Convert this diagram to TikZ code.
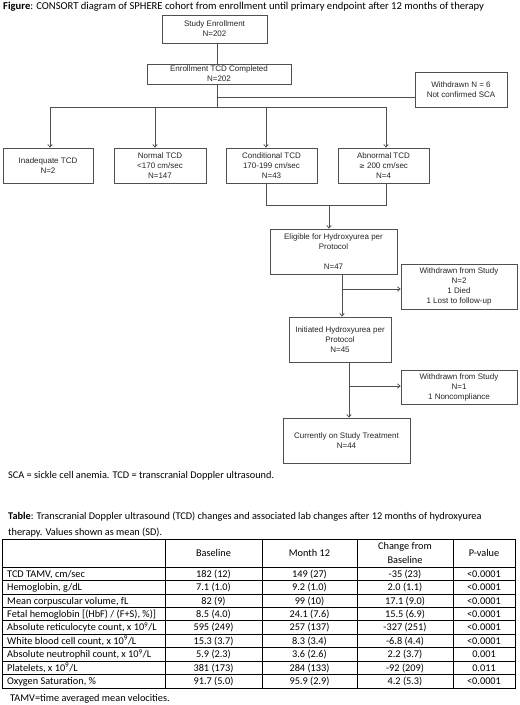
\documentclass[tikz,border=0pt]{standalone}
\usepackage{fontspec}
\setmainfont{Carlito}
\newfontfamily\arialf{Liberation Sans}
\usetikzlibrary{arrows.meta}
\definecolor{linec}{HTML}{505050}
\newcommand\trow[6]{%
  \node[tcell, anchor=base west] (r#1a) at (7,{567+(#1-0.5)*13.45+3.4}) {#2};
  \node[tcell, anchor=base] (r#1b) at (213.5,{567+(#1-0.5)*13.45+3.4}) {#3};
  \node[tcell, anchor=base] (r#1c) at (309.5,{567+(#1-0.5)*13.45+3.4}) {#4};
  \node[tcell, anchor=base] (r#1d) at (405,{567+(#1-0.5)*13.45+3.4}) {#5};
  \node[tcell, anchor=base] (r#1e) at (484,{567+(#1-0.5)*13.45+3.4}) {#6};
}
\begin{document}
\begin{tikzpicture}[x=1pt,y=-1pt,
  box/.style={draw=linec, line width=0.8pt, fill=white, align=center, inner sep=0pt,
    font=\arialf\fontsize{8}{10}\selectfont, text=black!85},
  conn/.style={draw=linec, line width=0.8pt},
  arr/.style={conn, -{Straight Barb[length=2.5pt,width=4.5pt]}},
  captext/.style={inner sep=0pt, anchor=base west, font=\fontsize{10.3}{12.4}\selectfont},
  tcell/.style={inner sep=0pt, font=\fontsize{10.3}{13.5}\selectfont, align=center},
  tgrid/.style={draw=black, line width=0.8pt}
]
\useasboundingbox[fill=white] (0,0) rectangle (520,705);

% captions
\node[captext, font=\fontsize{10.6}{12.4}\selectfont] (figcap) at (3,9) {\textbf{Figure}: CONSORT diagram of SPHERE cohort from enrollment until primary endpoint after 12 months of therapy};
\node[captext] (abbr) at (8,478) {SCA = sickle cell anemia. TCD = transcranial Doppler ultrasound.};
\node[captext] (tcap1) at (8,519) {\textbf{Table}: Transcranial Doppler ultrasound (TCD) changes and associated lab changes after 12 months of hydroxyurea};
\node[captext] (tcap2) at (8,535) {therapy. Values shown as mean (SD).};
\node[captext] (tamv) at (10,701.5) {TAMV=time averaged mean velocities.};

% boxes
\node[box, minimum width=105pt, minimum height=28pt] (study) at (214.5,29) {Study Enrollment\\N=202};
\node[box, minimum width=144pt, minimum height=20pt] (enroll) at (219,74) {Enrollment TCD Completed\\N=202};
\node[box, minimum width=92pt, minimum height=35pt] (wd6) at (461,89.5) {Withdrawn N = 6\\Not confirmed SCA};
\node[box, minimum width=90pt, minimum height=35pt] (inad) at (48,165.5) {Inadequate TCD\\N=2};
\node[box, minimum width=92pt, minimum height=35pt] (normal) at (160,165.5) {Normal TCD\\<170 cm/sec\\N=147};
\node[box, minimum width=91pt, minimum height=35pt] (cond) at (271.5,165.5) {Conditional TCD\\170-199 cm/sec\\N=43};
\node[box, minimum width=91pt, minimum height=35pt] (abn) at (383.5,165.5) {Abnormal TCD\\{\fontspec{DejaVu Sans}\fontsize{7}{10}\selectfont ≥} 200 cm/sec\\N=4};
\node[box, minimum width=127pt, minimum height=45pt] (elig) at (333.5,251.5) {Eligible for Hydroxyurea per\\Protocol\\[10pt]N=47};
\node[box, minimum width=116pt, minimum height=45pt] (wd1) at (459,286.5) {Withdrawn from Study\\N=2\\1 Died\\1 Lost to follow-up};
\node[box, minimum width=102pt, minimum height=45pt] (init) at (340,339.5) {Initiated Hydroxyurea per\\Protocol\\N=45};
\node[box, minimum width=116pt, minimum height=34pt] (wd2) at (459,387) {Withdrawn from Study\\N=1\\1 Noncompliance};
\node[box, minimum width=127pt, minimum height=45pt] (cur) at (346.5,440.5) {Currently on Study Treatment\\N=44};

% connector coordinates
\coordinate (v0) at (217,107);
\coordinate (j6) at (217,97);
\coordinate (b1) at (50,107);
\coordinate (b2) at (155,107);
\coordinate (b3) at (266,107);
\coordinate (b4) at (386,107);
\coordinate (m1) at (329,205);
\coordinate (e1) at (342,289);
\coordinate (e2) at (349,386);

\draw[conn] (study.south -| v0) -- (enroll.north -| v0);
\draw[conn] (enroll.south -| v0) -- (v0);
\draw[conn] (j6) -- (wd6.west |- j6);
\draw[conn] (b1) -- (b4);
\draw[arr] (b1) -- (b1 |- inad.north);
\draw[arr] (b2) -- (b2 |- normal.north);
\draw[arr] (b3) -- (b3 |- cond.north);
\draw[arr] (b4) -- (b4 |- abn.north);
\draw[conn] (b3 |- cond.south) |- (m1);
\draw[conn] (b4 |- abn.south) |- (m1);
\draw[arr] (m1) -- (m1 |- elig.north);
\draw[arr] (e1 |- elig.south) -- (e1 |- init.north);
\draw[arr] (e1) -- (wd1.west |- e1);
\draw[arr] (e2 |- init.south) -- (e2 |- cur.north);
\draw[arr] (e2) -- (wd2.west |- e2);

% table grid
\draw[tgrid] (2,539) rectangle (515,688.05);
\draw[tgrid] (2,567) -- (515,567);
\foreach \k in {1,...,8} { \draw[tgrid] (2,{567+\k*13.45}) -- (515,{567+\k*13.45}); }
\foreach \xx in {165,262,357,453} { \draw[tgrid] (\xx,539) -- (\xx,688.05); }

% header
\node[tcell, anchor=base] (hb) at (213.5,556.5) {Baseline};
\node[tcell, anchor=base] (hm) at (309.5,556.5) {Month 12};
\node[tcell, anchor=base] (hc1) at (405,549.5) {Change from};
\node[tcell, anchor=base] (hc2) at (405,563.3) {Baseline};
\node[tcell, anchor=base] (hp) at (484,556.5) {P-value};

\trow{1}{TCD TAMV, cm/sec}{182 (12)}{149 (27)}{-35 (23)}{<0.0001}
\trow{2}{Hemoglobin, g/dL}{7.1 (1.0)}{9.2 (1.0)}{2.0 (1.1)}{<0.0001}
\trow{3}{Mean corpuscular volume, fL}{82 (9)}{99 (10)}{17.1 (9.0)}{<0.0001}
\trow{4}{Fetal hemoglobin [(HbF) / (F+S), \%)]}{8.5 (4.0)}{24.1 (7.6)}{15.5 (6.9)}{<0.0001}
\trow{5}{Absolute reticulocyte count, x 10\textsuperscript{9}/L}{595 (249)}{257 (137)}{-327 (251)}{<0.0001}
\trow{6}{White blood cell count, x 10\textsuperscript{9}/L}{15.3 (3.7)}{8.3 (3.4)}{-6.8 (4.4)}{<0.0001}
\trow{7}{Absolute neutrophil count, x 10\textsuperscript{9}/L}{5.9 (2.3)}{3.6 (2.6)}{2.2 (3.7)}{0.001}
\trow{8}{Platelets, x 10\textsuperscript{9}/L}{381 (173)}{284 (133)}{-92 (209)}{0.011}
\trow{9}{Oxygen Saturation, \%}{91.7 (5.0)}{95.9 (2.9)}{4.2 (5.3)}{<0.0001}
\end{tikzpicture}
\end{document}
